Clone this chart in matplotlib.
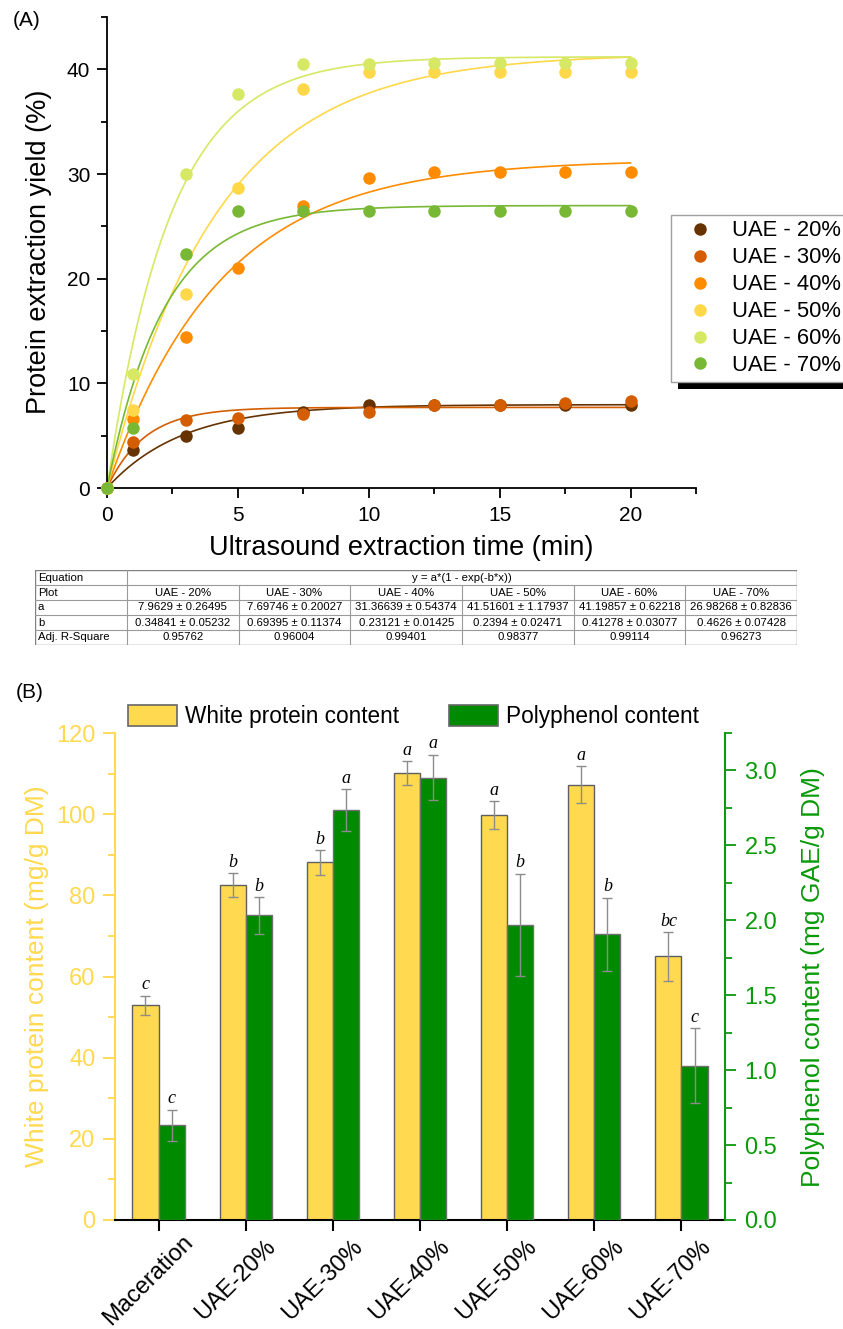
import numpy as np
import matplotlib
matplotlib.use('Agg')
import matplotlib.pyplot as plt
from matplotlib.patches import Rectangle, Patch
from matplotlib.ticker import MultipleLocator
import matplotlib.transforms as mtransforms

plt.rcParams['font.family'] = ['Liberation Sans', 'DejaVu Sans']

# ---------------- Panel A data ----------------
time_min = [0, 1, 3, 5, 7.5, 10, 12.5, 15, 17.5, 20]
uae_labels = ['UAE - 20%', 'UAE - 30%', 'UAE - 40%', 'UAE - 50%', 'UAE - 60%', 'UAE - 70%']
uae_colors = ['#663300', '#D45D00', '#FF8C00', '#FFD84A', '#D6E864', '#78B834']
yield_20 = [0, 3.6, 5.0, 5.7, 7.3, 7.9, 7.9, 7.9, 7.9, 7.9]
yield_30 = [0, 4.4, 6.5, 6.7, 7.1, 7.3, 7.9, 7.9, 8.1, 8.3]
yield_40 = [0, 6.6, 14.4, 21.0, 26.9, 29.6, 30.2, 30.2, 30.2, 30.2]
yield_50 = [0, 7.5, 18.5, 28.7, 38.1, 39.7, 39.7, 39.7, 39.7, 39.7]
yield_60 = [0, 10.9, 30.0, 37.6, 40.5, 40.5, 40.6, 40.6, 40.6, 40.6]
yield_70 = [0, 5.7, 22.4, 26.5, 26.5, 26.5, 26.5, 26.5, 26.5, 26.5]

# Fit parameters (table)
fit_a = [7.9629, 7.69746, 31.36639, 41.51601, 41.19857, 26.98268]
fit_a_err = [0.26495, 0.20027, 0.54374, 1.17937, 0.62218, 0.82836]
fit_b = [0.34841, 0.69395, 0.23121, 0.2394, 0.41278, 0.4626]
fit_b_err = [0.05232, 0.11374, 0.01425, 0.02471, 0.03077, 0.07428]
adj_r2 = ['0.95762', '0.96004', '0.99401', '0.98377', '0.99114', '0.96273']
equation = 'y = a*(1 - exp(-b*x))'

# ---------------- Panel B data ----------------
categories = ['Maceration', 'UAE-20%', 'UAE-30%', 'UAE-40%', 'UAE-50%', 'UAE-60%', 'UAE-70%']
protein = [52.9, 82.5, 88.1, 110.2, 99.8, 107.3, 65.0]
protein_err = [2.4, 2.9, 3.0, 2.9, 3.4, 4.5, 6.0]
protein_letters = ['c', 'b', 'b', 'a', 'a', 'a', 'bc']
polyphenol = [0.632, 2.034, 2.737, 2.953, 1.969, 1.907, 1.030]
polyphenol_err = [0.105, 0.123, 0.140, 0.153, 0.343, 0.245, 0.249]
polyphenol_letters = ['c', 'b', 'a', 'a', 'b', 'b', 'c']

YEL = '#FFD94F'
GRN = '#008A00'
GRN_AX = '#0A9A0A'

W, H = 843, 1329
fig = plt.figure(figsize=(W / 100, H / 100), dpi=100)


def fx(px):
    return px / W


def fy(py):
    return 1 - py / H


# ================= Panel A =================
ax1 = fig.add_axes([fx(107), fy(488), fx(696) - fx(107), fy(17) - fy(488)])
series = [yield_20, yield_30, yield_40, yield_50, yield_60, yield_70]
xs = np.linspace(0, 20, 300)
handles = []
for i, (ys, col) in enumerate(zip(series, uae_colors)):
    ax1.plot(xs, fit_a[i] * (1 - np.exp(-fit_b[i] * xs)), color=col, lw=1.2, zorder=2)
for i, (ys, col) in enumerate(zip(series, uae_colors)):
    h, = ax1.plot(time_min, ys, 'o', color=col, ms=9, mec='none', clip_on=False, zorder=3 + i)
    handles.append(h)

ax1.set_xlim(0, 22.5)
ax1.set_ylim(0, 45)
ax1.xaxis.set_major_locator(MultipleLocator(5))
ax1.xaxis.set_minor_locator(MultipleLocator(2.5))
ax1.yaxis.set_major_locator(MultipleLocator(10))
ax1.yaxis.set_minor_locator(MultipleLocator(5))
for s in ['top', 'right']:
    ax1.spines[s].set_visible(False)
for s in ['left', 'bottom']:
    ax1.spines[s].set_linewidth(1.3)
ax1.tick_params(which='major', direction='out', length=7, width=1.3, labelsize=15, pad=5)
ax1.tick_params(which='minor', direction='out', length=4.5, width=1.3)
ax1.tick_params(axis='x', which='major', pad=6)
ax1.set_yticks([0, 10, 20, 30, 40])
ax1.set_yticks([5, 15, 25, 35, 45], minor=True)
ax1.set_xticks([0, 5, 10, 15, 20])

fig.text(fx(39), fy(252), 'Protein extraction yield (%)', rotation=90, ha='center', va='center', fontsize=19.5)
fig.text(fx(401), fy(548), 'Ultrasound extraction time (min)', ha='center', va='center', fontsize=19.5)
fig.text(fx(27), fy(20), '(A)', ha='center', va='center', fontsize=15)

leg1 = fig.legend(handles, uae_labels, loc='upper left', bbox_to_anchor=(fx(671), fy(215)),
                  bbox_transform=fig.transFigure, frameon=True, fancybox=False, fontsize=15.8,
                  borderpad=0.25, handlelength=2.1, handletextpad=0.43, labelspacing=0.27,
                  borderaxespad=0, markerscale=1.0, framealpha=1.0)
leg1.get_frame().set_edgecolor('#a0a0a0')
leg1.get_frame().set_linewidth(1.0)
leg1.set_zorder(10)

# ================= Table =================
tx0, tx1, ty0, ty1 = 35, 797, 570, 645
tab = fig.add_axes([fx(tx0), fy(ty1), fx(tx1) - fx(tx0), fy(ty0) - fy(ty1)])
tab.set_xlim(tx0, tx1)
tab.set_ylim(ty1, ty0)
tab.axis('off')
col_edges = [tx0, 127] + [127 + (tx1 - 127) / 6 * k for k in range(1, 7)]
nrows = 5
rh = (ty1 - ty0) / nrows
row_y = [ty0 + rh * r for r in range(nrows + 1)]
lc = '#9a9a9a'
for r in range(1, nrows):
    tab.plot([tx0, tx1], [row_y[r], row_y[r]], color=lc, lw=0.8)
tab.plot([127, 127], [ty0, ty1], color=lc, lw=0.8)
for c in col_edges[2:-1]:
    tab.plot([c, c], [row_y[1], ty1], color=lc, lw=0.8)
tab.add_patch(Rectangle((tx0, ty0), tx1 - tx0, ty1 - ty0, fill=False, ec='#808080', lw=1.0))
tfs = 8.2
row_names = ['Equation', 'Plot', 'a', 'b', 'Adj. R-Square']
for r, nm in enumerate(row_names):
    tab.text(tx0 + 3, row_y[r] + rh / 2, nm, ha='left', va='center', fontsize=tfs)
tab.text((127 + tx1) / 2, row_y[0] + rh / 2, equation, ha='center', va='center', fontsize=tfs)
for k in range(6):
    cx = (col_edges[k + 1] + col_edges[k + 2]) / 2
    tab.text(cx, row_y[1] + rh / 2, uae_labels[k], ha='center', va='center', fontsize=tfs)
    tab.text(cx, row_y[2] + rh / 2, f'{fit_a[k]} ± {fit_a_err[k]}', ha='center', va='center', fontsize=tfs)
    tab.text(cx, row_y[3] + rh / 2, f'{fit_b[k]} ± {fit_b_err[k]}', ha='center', va='center', fontsize=tfs)
    tab.text(cx, row_y[4] + rh / 2, adj_r2[k], ha='center', va='center', fontsize=tfs)

# ================= Panel B =================
ax = fig.add_axes([fx(115), fy(1220), fx(725) - fx(115), fy(733) - fy(1220)])
ax2 = ax.twinx()
xpos = np.arange(len(categories))
bw = 0.3
errkw = dict(ecolor='#8c8c8c', elinewidth=1.0, capsize=3.6, capthick=1.0)
b1 = ax.bar(xpos - bw / 2, protein, bw, yerr=protein_err, color=YEL, edgecolor='#5f5f5f', linewidth=1.0,
            error_kw=errkw, label='White protein content')
b2 = ax2.bar(xpos + bw / 2, polyphenol, bw, yerr=polyphenol_err, color=GRN, edgecolor='#6f6f6f', linewidth=1.0,
             error_kw=errkw, label='Polyphenol content')
for i in range(len(categories)):
    ax.annotate(protein_letters[i], (xpos[i] - bw / 2, protein[i] + protein_err[i]), xytext=(0, 1.5),
                textcoords='offset points', ha='center', va='bottom', fontsize=13,
                family='Liberation Serif', style='italic')
    ax2.annotate(polyphenol_letters[i], (xpos[i] + bw / 2, polyphenol[i] + polyphenol_err[i]), xytext=(0, 1.5),
                 textcoords='offset points', ha='center', va='bottom', fontsize=13,
                 family='Liberation Serif', style='italic')

ax.set_xlim(-0.5, 6.5)
ax.set_ylim(0, 120)
ax2.set_ylim(0, 3.25)
ax.yaxis.set_major_locator(MultipleLocator(20))
ax.yaxis.set_minor_locator(MultipleLocator(10))
ax2.yaxis.set_major_locator(MultipleLocator(0.5))
ax2.yaxis.set_minor_locator(MultipleLocator(0.25))
ax2.set_yticks(np.arange(0, 3.01, 0.5))
ax2.set_yticklabels([f'{v:.1f}' for v in np.arange(0, 3.01, 0.5)])
ax.set_xticks(xpos)
ax.set_xticklabels([''] * len(categories))

for a in (ax, ax2):
    a.spines['top'].set_visible(False)
ax.spines['right'].set_visible(False)
ax2.spines['left'].set_visible(False)
ax2.spines['bottom'].set_visible(False)
ax.spines['left'].set_color(YEL)
ax.spines['left'].set_linewidth(1.5)
ax.spines['bottom'].set_color('black')
ax.spines['bottom'].set_linewidth(1.5)
ax2.spines['right'].set_color(GRN_AX)
ax2.spines['right'].set_linewidth(1.5)

ax.tick_params(axis='y', which='major', direction='out', length=9, width=1.3, color=YEL,
               labelcolor=YEL, labelsize=17, pad=5)
ax.tick_params(axis='y', which='minor', direction='out', length=5, width=1.3, color=YEL)
ax.tick_params(axis='x', which='major', direction='out', length=8, width=1.5, color='black')
ax2.tick_params(axis='y', which='major', direction='out', length=8, width=1.3, color=GRN_AX,
                labelcolor=GRN_AX, labelsize=17, pad=6)
ax2.tick_params(axis='y', which='minor', direction='out', length=5, width=1.3, color=GRN_AX)

off = mtransforms.ScaledTranslation(-10.5 / 100, -60 / 100, fig.dpi_scale_trans)
for i, c in enumerate(categories):
    ax.text(xpos[i], 0, c, transform=ax.get_xaxis_transform() + off, rotation=45,
            rotation_mode='anchor', ha='center', va='center', fontsize=17)

fig.text(fx(37), fy(976), 'White protein content (mg/g DM)', rotation=90, ha='center', va='center',
         fontsize=19, color=YEL)
fig.text(fx(813), fy(977), 'Polyphenol content (mg GAE/g DM)', rotation=90, ha='center', va='center',
         fontsize=19, color=GRN_AX)
fig.text(fx(30), fy(693), '(B)', ha='center', va='center', fontsize=15)

leg_handles = [Patch(facecolor=YEL, edgecolor='#666666', lw=1.2), Patch(facecolor=GRN, edgecolor='#666666', lw=1.2)]
fig.legend(leg_handles, ['White protein content', 'Polyphenol content'], loc='upper left',
           bbox_to_anchor=(fx(128), fy(705)), bbox_transform=fig.transFigure, frameon=False,
           ncol=2, fontsize=16.3, borderpad=0, borderaxespad=0, handlelength=2.17, handleheight=1.06,
           handletextpad=0.35, columnspacing=2.2)

# legend shadow for panel A
fig.canvas.draw()
bb = leg1.get_frame().get_window_extent(fig.canvas.get_renderer())
sh = Rectangle((fx(bb.x0 + 7), (bb.y0 - 7) / H), (bb.x1 - bb.x0) / W, (bb.y1 - bb.y0) / H,
               transform=fig.transFigure, facecolor='black', edgecolor='none', zorder=9)
fig.patches.append(sh)

fig.savefig('out.png', dpi=100)
